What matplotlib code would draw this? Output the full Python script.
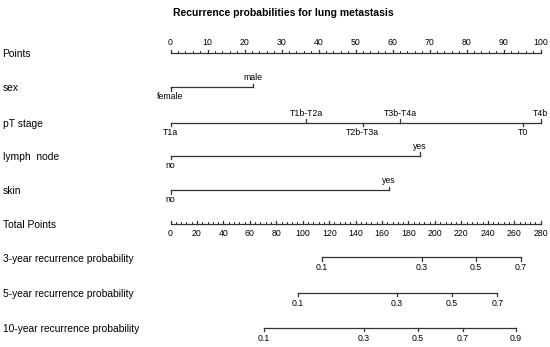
import matplotlib
matplotlib.use("Agg")
import matplotlib.pyplot as plt
import numpy as np

plt.rcParams['font.family'] = ['Liberation Sans', 'DejaVu Sans']

title = "Recurrence probabilities for lung metastasis"

# Points scale
points_ticks = list(range(0, 101, 10))

# Predictors: (labels, point values, label above?)
sex_labels = ["female", "male"]
sex_points = [0, 22.3]
sex_above = [False, True]

pt_labels = ["T1a", "T1b-T2a", "T2b-T3a", "T3b-T4a", "T0", "T4b"]
pt_points = [0, 36.6, 51.9, 62.0, 95.2, 100]
pt_above = [False, True, False, True, False, True]

lymph_labels = ["no", "yes"]
lymph_points = [0, 67.3]
lymph_above = [False, True]

skin_labels = ["no", "yes"]
skin_points = [0, 59.1]
skin_above = [False, True]

# Total points scale
total_ticks = list(range(0, 281, 20))
total_max = 280

# Probabilities located at total points
prob3_labels = ["0.1", "0.3", "0.5", "0.7"]
prob3_total = [114.7, 189.9, 231.0, 265.1]
prob5_labels = ["0.1", "0.3", "0.5", "0.7"]
prob5_total = [96.6, 171.3, 212.9, 247.2]
prob10_labels = ["0.1", "0.3", "0.5", "0.7", "0.9"]
prob10_total = [70.8, 146.2, 187.0, 221.1, 261.1]

row_names = ["Points", "sex", "pT stage", "lymph  node", "skin", "Total Points",
             "3-year recurrence probability", "5-year recurrence probability",
             "10-year recurrence probability"]

W, H = 550, 347
fig = plt.figure(figsize=(W/100, H/100), dpi=100)
ax = fig.add_axes([0, 0, 1, 1])
x0px, x100px = 170.5, 540.7
ppp = (x100px - x0px) / 100.0
ax.set_xlim(-x0px / ppp, (W - x0px) / ppp)
ax.set_ylim(H, 0)
ax.axis('off')

def px(xp):
    return (xp - x0px) / ppp

col = '#333333'
lw = 0.9
tfs = 6.3
lfs = 7.35
tick_len = 3.5

row_y = [53, 87, 122.5, 155.7, 190, 224, 257.3, 292.7, 327.7]

ax.text(px(283), 12.5, title, ha='center', va='center', fontsize=7.5,
        fontweight='bold', color='black')

for name, y in zip(row_names, row_y):
    ax.text(px(2.5), y + 1.2, name, ha='left', va='center', fontsize=lfs, color='black')

# Points axis
y = row_y[0]
ax.plot([0, 100], [y, y], color=col, lw=lw)
for p in np.arange(0, 101, 2):
    ax.plot([p, p], [y, y - 1.8], color=col, lw=0.7)
for p in points_ticks:
    ax.plot([p, p], [y, y - tick_len], color=col, lw=lw)
    ax.text(p, y - 6, str(p), ha='center', va='bottom', fontsize=tfs, color='black')

def cat_axis(y, labels, pts, above):
    ax.plot([min(pts), max(pts)], [y, y], color=col, lw=lw)
    for lab, p, a in zip(labels, pts, above):
        if a:
            ax.plot([p, p], [y, y - tick_len], color=col, lw=lw)
            ax.text(p, y - 5, lab, ha='center', va='bottom', fontsize=tfs, color='black')
        else:
            ax.plot([p, p], [y, y + tick_len], color=col, lw=lw)
            ax.text(p, y + 5, lab, ha='center', va='top', fontsize=tfs, color='black')

cat_axis(row_y[1], sex_labels, sex_points, sex_above)
cat_axis(row_y[2], pt_labels, pt_points, pt_above)
cat_axis(row_y[3], lymph_labels, lymph_points, lymph_above)
cat_axis(row_y[4], skin_labels, skin_points, skin_above)

# Total points axis
scale = 100.0 / total_max
y = row_y[5]
ax.plot([0, 100], [y, y], color=col, lw=lw)
for t in np.arange(0, total_max + 1, 4):
    ax.plot([t * scale] * 2, [y, y - 1.8], color=col, lw=0.7)
for t in total_ticks:
    ax.plot([t * scale] * 2, [y, y - tick_len], color=col, lw=lw)
    ax.text(t * scale, y + 5, str(t), ha='center', va='top', fontsize=tfs, color='black')

def prob_axis(y, labels, totals):
    xs = [t * scale for t in totals]
    ax.plot([xs[0], xs[-1]], [y, y], color=col, lw=lw)
    for lab, x in zip(labels, xs):
        ax.plot([x, x], [y, y + tick_len], color=col, lw=lw)
        ax.text(x, y + 6, lab, ha='center', va='top', fontsize=tfs, color='black')

prob_axis(row_y[6], prob3_labels, prob3_total)
prob_axis(row_y[7], prob5_labels, prob5_total)
prob_axis(row_y[8], prob10_labels, prob10_total)

fig.savefig("out.png", dpi=100)
